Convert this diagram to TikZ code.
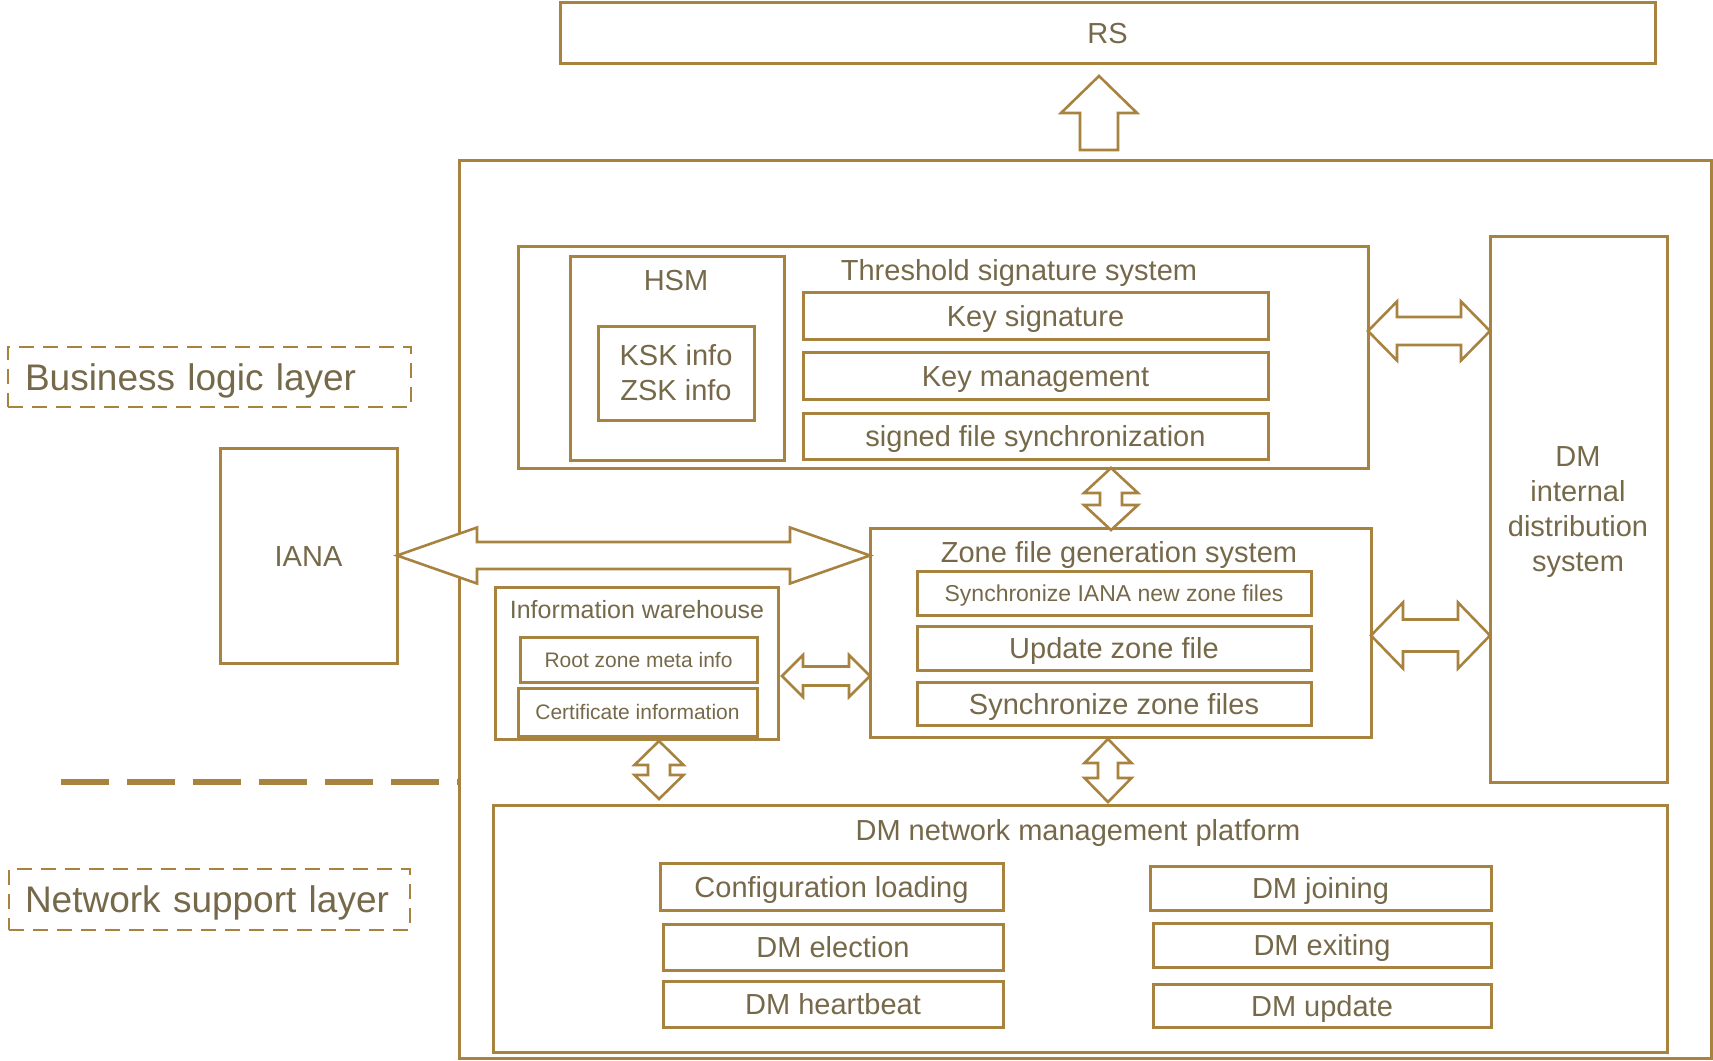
\documentclass[tikz,border=0pt]{standalone}
\usepackage{fontspec}
\setmainfont{Liberation Sans}
\usetikzlibrary{calc}
\definecolor{gold}{HTML}{A8823F}
\definecolor{ink}{HTML}{76694A}

% horizontal double block arrow: left tip, right tip, head length, head half width, shaft half width
\newcommand\hblock[5]{%
  \draw[blockarrow] let \p1=(#1), \p2=(#2) in
    (\x1,\y1) -- (\x1+#3pt,\y1+#4pt) -- (\x1+#3pt,\y1+#5pt) -- (\x2-#3pt,\y1+#5pt)
    -- (\x2-#3pt,\y1+#4pt) -- (\x2,\y1) -- (\x2-#3pt,\y1-#4pt) -- (\x2-#3pt,\y1-#5pt)
    -- (\x1+#3pt,\y1-#5pt) -- (\x1+#3pt,\y1-#4pt) -- cycle;}
% vertical double block arrow: top tip, bottom tip, head length, head half width, shaft half width
\newcommand\vblock[5]{%
  \draw[blockarrow] let \p1=(#1), \p2=(#2) in
    (\x1,\y1) -- (\x1+#4pt,\y1-#3pt) -- (\x1+#5pt,\y1-#3pt) -- (\x1+#5pt,\y2+#3pt)
    -- (\x1+#4pt,\y2+#3pt) -- (\x1,\y2) -- (\x1-#4pt,\y2+#3pt) -- (\x1-#5pt,\y2+#3pt)
    -- (\x1-#5pt,\y1-#3pt) -- (\x1-#4pt,\y1-#3pt) -- cycle;}

\begin{document}
\begin{tikzpicture}[x=1pt,y=-1pt,
  every node/.style={text=ink, inner sep=0pt, outer sep=0pt},
  f29/.style={font=\fontsize{29}{35}\selectfont, text height=21pt, text depth=0pt},
  f25/.style={font=\fontsize{25}{30}\selectfont, text height=18pt, text depth=0pt},
  f23/.style={font=\fontsize{23}{28}\selectfont, text height=16.5pt, text depth=0pt},
  f21/.style={font=\fontsize{21}{26}\selectfont, text height=15pt, text depth=0pt},
  f37/.style={font=\fontsize{37}{44}\selectfont, text height=26.5pt, text depth=0pt},
  multi/.style={font=\fontsize{29}{35}\selectfont, align=center},
  box/.style={draw=gold, line width=3pt},
  layerbox/.style={draw=gold, line width=2.6pt, dash pattern=on 15pt off 9pt, align=left},
  blockarrow/.style={draw=gold, fill=white, line width=2.6pt, line join=miter},
  sepline/.style={draw=gold, line width=6pt, dash pattern=on 48pt off 18pt}]
\useasboundingbox (0,0) rectangle (1713,1060);

% top-level containers
\node[box, minimum width=1095pt, minimum height=61pt, f29] (rs) at (1107.5,32.5) {RS};
\node[box, minimum width=1252pt, minimum height=898pt] (outer) at (1085,609) {};

% threshold signature system
\node[box, minimum width=850pt, minimum height=222pt] (thr) at (943,357) {};
\node[f29] (thrT) at (1019,270) {Threshold signature system};
\node[box, minimum width=214pt, minimum height=204pt] (hsm) at (677,358) {};
\node[f29] (hsmT) at (676,280) {HSM};
\node[box, minimum width=156pt, minimum height=94pt, multi] (ksk) at (676,373) {KSK info\\ZSK info};
\node[box, minimum width=465pt, minimum height=47pt, f29] (ksig) at (1035.5,315.5) {Key signature};
\node[box, minimum width=465pt, minimum height=47pt, f29] (kmgt) at (1035.5,375.5) {Key management};
\node[box, minimum width=465pt, minimum height=46pt, f29] (sfs) at (1035.5,436) {signed file synchronization};

% DM internal distribution system
\node[box, minimum width=177pt, minimum height=546pt] (dmi) at (1578.5,509) {};
\node[multi] (dmiT) at (1578,512) {DM\\internal\\distribution\\system};

% zone file generation system
\node[box, minimum width=501pt, minimum height=209pt] (zone) at (1120.5,632.5) {};
\node[f29] (zoneT) at (1119,552) {Zone file generation system};
\node[box, minimum width=394pt, minimum height=44pt, f23] (zs1) at (1114,593) {Synchronize IANA new zone files};
\node[box, minimum width=394pt, minimum height=44pt, f29] (zs2) at (1114,648) {Update zone file};
\node[box, minimum width=394pt, minimum height=43pt, f29] (zs3) at (1114,703.5) {Synchronize zone files};

% information warehouse
\node[box, minimum width=283pt, minimum height=152pt] (iw) at (636.5,663) {};
\node[f25] (iwT) at (637,609) {Information warehouse};
\node[box, minimum width=237pt, minimum height=45pt, f21] (iw1) at (638.5,659.5) {Root zone meta info};
\node[box, minimum width=239pt, minimum height=48pt, f21] (iw2) at (637.5,712) {Certificate information};

% IANA
\node[box, minimum width=177pt, minimum height=215pt, f29] (iana) at (308.5,555.5) {IANA};

% DM network management platform
\node[box, minimum width=1174pt, minimum height=247pt] (dmn) at (1080,928.5) {};
\node[f29] (dmnT) at (1078,830) {DM network management platform};
\node[box, minimum width=343pt, minimum height=47pt, f29] (n1) at (831.5,886.5) {Configuration loading};
\node[box, minimum width=340pt, minimum height=46pt, f29] (n2) at (833,947) {DM election};
\node[box, minimum width=340pt, minimum height=46pt, f29] (n3) at (833,1004) {DM heartbeat};
\node[box, minimum width=341pt, minimum height=44pt, f29] (n4) at (1320.5,888) {DM joining};
\node[box, minimum width=338pt, minimum height=44pt, f29] (n5) at (1322,945) {DM exiting};
\node[box, minimum width=338pt, minimum height=43pt, f29] (n6) at (1322,1005.5) {DM update};

% layer labels and separator
\node[layerbox, minimum width=403pt, minimum height=60pt, inner xsep=17pt, text width=369pt, f37] (blay) at (209.5,377) {Business logic layer};
\node[layerbox, minimum width=401pt, minimum height=61pt, inner xsep=16pt, text width=369pt, f37] (nlay) at (209.5,899.5) {Network support layer};
\coordinate (sepL) at (61,782);
\draw[sepline] (sepL) -- (outer.west |- sepL);

% block arrows
\coordinate (a1) at (iana.east);
\coordinate (a2) at (zone.west |- a1);
\hblock{a1}{a2}{80}{28}{13.5}

\coordinate (b1) at ([yshift=26pt]thr.east);
\coordinate (b2) at (dmi.west |- b1);
\hblock{b1}{b2}{29}{29.5}{14}

\coordinate (c1) at ([yshift=-3pt]zone.east);
\coordinate (c2) at (dmi.west |- c1);
\hblock{c1}{c2}{32}{33}{16}

\coordinate (d1) at ([yshift=-13pt,xshift=4pt]iw.east);
\coordinate (d2) at (zone.west |- d1);
\hblock{d1}{d2}{21}{21}{9.5}

\coordinate (e1) at ([xshift=168pt]thr.south);
\coordinate (e2) at ($(e1 |- zone.north)+(0,2)$);
\vblock{e1}{e2}{25}{27}{11}

\coordinate (f1) at ($([xshift=22.5pt]iw.south)+(0,2)$);
\coordinate (f2) at ($(f1 |- dmn.north)+(0,-6)$);
\vblock{f1}{f2}{24}{24.5}{11}

\coordinate (g1) at ($([xshift=-12.5pt]zone.south)+(0,2)$);
\coordinate (g2) at ($(g1 |- dmn.north)+(0,-3)$);
\vblock{g1}{g2}{24}{23.5}{10}

% single arrow up to RS
\coordinate (h1) at ($([xshift=14pt]outer.north)+(0,-10)$);
\coordinate (h2) at ($(h1 |- rs.south)+(0,13)$);
\draw[blockarrow] let \p1=(h1), \p2=(h2) in
  (\x2,\y2) -- (\x2+38pt,\y2-37pt) -- (\x2+19pt,\y2-37pt) -- (\x2+19pt,\y1)
  -- (\x2-19pt,\y1) -- (\x2-19pt,\y2-37pt) -- (\x2-38pt,\y2-37pt) -- cycle;
\end{tikzpicture}
\end{document}
